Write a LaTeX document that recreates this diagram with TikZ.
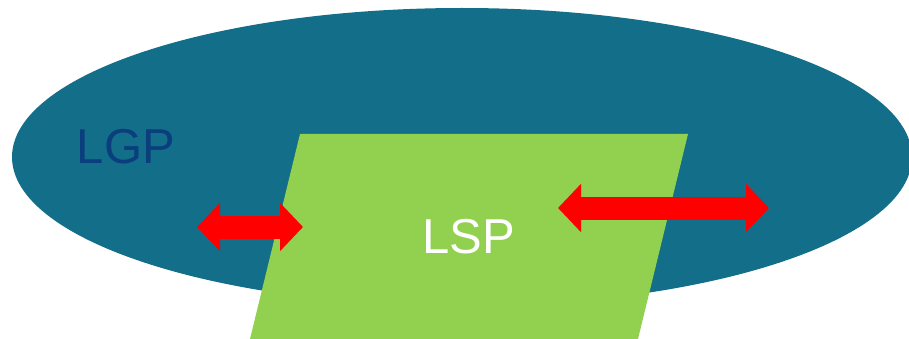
\documentclass[tikz,border=0pt]{standalone}
\usepackage{fontspec}
\setmainfont{Liberation Sans}
\usetikzlibrary{arrows.meta,positioning}
\definecolor{lgpcol}{RGB}{19,110,138}
\definecolor{lspcol}{RGB}{146,208,80}
\definecolor{lgptext}{RGB}{10,62,125}
\definecolor{arrcol}{RGB}{255,0,0}

\begin{document}
\begin{tikzpicture}[
  x=1pt, y=-1pt,
  label/.style={inner sep=0pt, font=\fontsize{49}{50}\selectfont, text=#1},
  label/.default={white},
  blockarr/.style={{Triangle[length=23pt,width=47pt]}-{Triangle[length=23pt,width=47pt]}, line width=23pt, arrcol},
]
  \useasboundingbox (0,0) rectangle (909,339);
  \clip (0,0) rectangle (909,339);

  % Global region
  \fill[lgpcol] (462,157) ellipse [x radius=450, y radius=149];
  \node[label=lgptext] (lgp) at (126,147) {LGP};

  % Local region
  \fill[lspcol] (300,134) -- (688,134) -- (638,339) -- (250,339) -- cycle;
  \node[label] (lsp) at (469,237) {LSP};

  % Exchange arrows
  \coordinate (la) at (197,227);
  \coordinate (lb) at (303,227);
  \coordinate (ra) at (558,208);
  \coordinate (rb) at (769,208);
  \draw[blockarr] (la) -- (lb);
  \draw[blockarr] (ra) -- (rb);

\end{tikzpicture}
\end{document}
